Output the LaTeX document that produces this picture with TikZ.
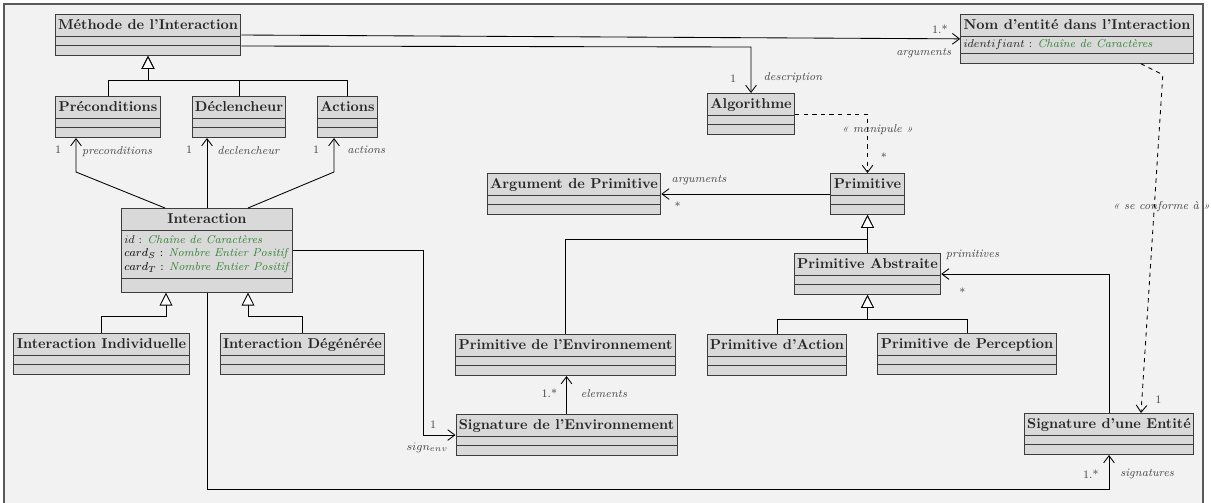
\documentclass[tikz,border=0pt]{standalone}
\usepackage{amsmath}
\usepackage{tikz}
\usetikzlibrary{calc, arrows.meta, positioning, shapes.multipart}
\usepackage{xcolor}

\definecolor{fond}{RGB}{242,242,242}
\definecolor{boite}{RGB}{217,217,217}
\definecolor{bord}{RGB}{60,60,60}
\definecolor{vert}{RGB}{52,130,52}
\definecolor{gris}{RGB}{70,70,70}

\newcommand{\titre}[1]{\rule[-2.6pt]{0pt}{10.4pt}\textbf{#1}}
\newcommand{\typ}[1]{\textcolor{vert}{\textit{#1}}}
\newcommand{\vide}{\rule{0pt}{1.8pt}}
\newcommand{\classevide}[1]{\titre{#1}\nodepart{two}\vide\nodepart{three}\vide}

\begin{document}
\begin{tikzpicture}[x=0.7pt, y=-0.7pt,
        classe/.style={rectangle split, rectangle split parts=3,
            rectangle split part align={center,left,center},
            draw=bord, fill=boite, line width=0.7pt, inner xsep=2pt, inner ysep=2.1pt,
            anchor=north, text=black!85},
        assoc/.style={-{Straight Barb[length=5pt,width=7.5pt]}, line width=0.6pt},
        herit/.style={-{Triangle[open,fill=white,length=9pt,width=9pt]}, line width=0.6pt},
        depend/.style={assoc, dashed},
        mult/.style={font=\footnotesize, text=gris, inner sep=1pt},
        role/.style={font=\footnotesize\itshape, text=gris, inner sep=1pt}]

        \useasboundingbox (0,0) rectangle (1211,502);
        \fill[fond] (4,4) rectangle (1203,520);
        \draw[black!65, line width=0.8pt] (4,520) -- (4,4) -- (1203,4) -- (1203,520);

        % classes
        \node[classe](Meth) at (148,14){\classevide{Méthode de l'Interaction}};
        \node[classe](Nom) at (1077,14){\titre{Nom d'entité dans l'Interaction}
            \nodepart{two}\footnotesize $identifiant$ : \typ{Chaîne de Caractères}
            \nodepart{three}\vide};
        \node[classe](Prec) at (108,96){\classevide{Préconditions}};
        \node[classe](Decl) at (239,96){\classevide{Déclencheur}};
        \node[classe](Act) at (347.5,96){\classevide{Actions}};
        \node[classe](Algo) at (751,93){\classevide{Algorithme}};
        \node[classe](Arg_prim) at (574,173){\classevide{Argument de Primitive}};
        \node[classe](Prim) at (867.5,173){\classevide{Primitive}};
        \node[classe](Inter) at (207,208){\titre{Interaction}
            \nodepart{two}\footnotesize\begin{tabular}{@{}l@{}}
                $id$ : \typ{Chaîne de Caractères}\\
                $card_S$ : \typ{Nombre Entier Positif}\\
                $card_T$ : \typ{Nombre Entier Positif}
            \end{tabular}
            \nodepart{three}\rule{0pt}{5pt}};
        \node[classe](Prim_abs) at (867.5,253){\classevide{Primitive Abstraite}};
        \node[classe](Inter_ind) at (101.5,333){\classevide{Interaction Individuelle}};
        \node[classe](Inter_deg) at (302.5,333){\classevide{Interaction Dégénérée}};
        \node[classe](Prim_env) at (565.5,334){\classevide{Primitive de l'Environnement}};
        \node[classe](Prim_act) at (777,334){\classevide{Primitive d'Action}};
        \node[classe](Prim_perc) at (967,333){\classevide{Primitive de Perception}};
        \node[classe](Sig_env) at (566.5,414){\classevide{Signature de l'Environnement}};
        \node[classe](Sig_ent) at (1109,413){\classevide{Signature d'une Entité}};

        % heritage
        \coordinate (g_meth) at ($(Meth.south)+(0,24)$);
        \draw[herit] (Prec.north) |- (g_meth) -- (Meth.south);
        \draw[herit] (Decl.north) |- (g_meth) -- (Meth.south);
        \draw[herit] (Act.north) |- (g_meth) -- (Meth.south);

        \coordinate (g_ind) at ($(Inter.south)+(-41,24)$);
        \coordinate (g_deg) at ($(Inter.south)+(41,24)$);
        \draw[herit] (Inter_ind.north) |- (g_ind) -- (g_ind |- Inter.south);
        \draw[herit] (Inter_deg.north) |- (g_deg) -- (g_deg |- Inter.south);

        \coordinate (g_prim) at ($(Prim.south)+(0,24)$);
        \path[herit] (Prim_abs.north) edge (Prim.south);
        \draw[herit] (Prim_env.north) |- (g_prim) -- (Prim.south);

        \coordinate (g_abs) at ($(Prim_abs.south)+(0,24)$);
        \draw[herit] (Prim_act.north) |- (g_abs) -- (Prim_abs.south);
        \draw[herit] (Prim_perc.north) |- (g_abs) -- (Prim_abs.south);

        % associations
        \path[assoc] (Meth.east) edge
            node[mult, pos=1, above left=2.5pt and 7.5pt]{1.*}
            node[role, pos=1, below left=5.5pt and 5pt]{arguments} (Nom.west);

        \coordinate (c_algo) at ($(Algo.north)+(0,-46)$);
        \draw[assoc] ($(Meth.south east)+(0,-10)$) -- (c_algo) -- (Algo.north)
            node[mult, above left=6pt and 9pt]{1}
            node[role, above right=6pt and 7.5pt]{description};

        \coordinate (c_prec) at (76,172);
        \coordinate (c_act) at (334,172);
        \draw[assoc] ($(Inter.north)+(-42,0)$) -- (c_prec) -- (c_prec |- Prec.south)
            node[mult, below left=4.5pt and 9pt]{1}
            node[role, below right=4.5pt and 3pt]{preconditions};
        \draw[assoc] (Inter.north) -- (Inter.north |- Decl.south)
            node[mult, below left=4.5pt and 9pt]{1}
            node[role, below right=4.5pt and 6pt]{declencheur};
        \draw[assoc] ($(Inter.north)+(41,0)$) -- (c_act) -- (c_act |- Act.south)
            node[mult, below left=4.5pt and 9pt]{1}
            node[role, below right=4.5pt and 8pt]{actions};

        \draw[depend] (Algo.east) -| (Prim.north)
            node[role, pos=0.63, xshift=7pt]{« manipule »}
            node[mult, above right=7pt and 8pt]{*};

        \path[assoc] (Prim.west) edge
            node[role, pos=1, above right=5pt and 6pt]{arguments}
            node[mult, pos=1, below right=4pt and 8pt]{*} (Arg_prim.east);

        \coordinate (c_conf) at ($(Nom.south east)+(-31,11)$);
        \draw[depend] ($(Nom.south east)+(-53,0)$) -- (c_conf) -- ($(Sig_ent.north)+(32,0)$)
            node[role, pos=0.39, xshift=5pt]{« se conforme à »}
            node[mult, above right=5.3pt and 8.8pt]{1};

        \draw[assoc] (Sig_ent.north) |- (Prim_abs.east)
            node[role, above right=9pt and 2pt]{primitives}
            node[mult, below right=8.5pt and 11.5pt]{*};

        \coordinate (c_env) at ($(Inter.east)+(130,0)$);
        \draw[assoc] (Inter.east) -- (c_env) |- (Sig_env.west)
            node[mult, above left=3.2pt and 12.3pt]{1}
            node[role, below left=4pt and 4pt]{$sign_{env}$};

        \draw[assoc] (Sig_env.north) -- (Sig_env.north |- Prim_env.south)
            node[mult, below left=8pt and 5.3pt]{1.*}
            node[role, below right=8pt and 8.8pt]{elements};

        \coordinate (c_bas) at ($(Inter.south)+(0,197)$);
        \draw[assoc] (Inter.south) -- (c_bas) -| (Sig_ent.south)
            node[mult, below left=8.8pt and 6pt]{1.*}
            node[role, below right=8.8pt and 6.7pt]{signatures};
    \end{tikzpicture}
\end{document}
